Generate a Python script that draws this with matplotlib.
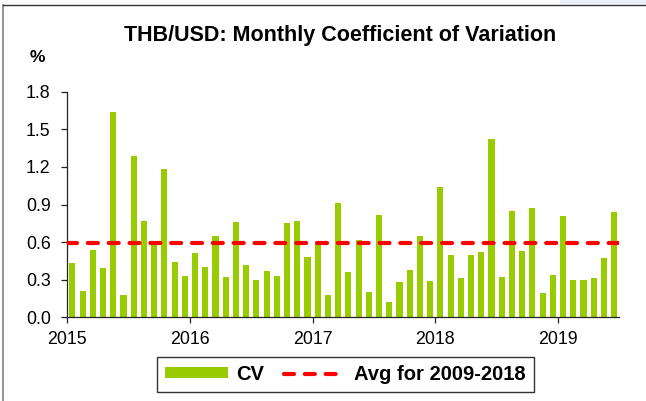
import matplotlib
matplotlib.use("Agg")
import matplotlib.pyplot as plt
from matplotlib.lines import Line2D
from matplotlib.patches import Rectangle

plt.rcParams['font.family'] = ['Liberation Sans', 'DejaVu Sans']

# Monthly CV (%), Jan 2015 - Jun 2019
cv = [0.43, 0.21, 0.54, 0.39, 1.64, 0.18, 1.29, 0.77, 0.61, 1.18, 0.44, 0.33,
      0.51, 0.40, 0.65, 0.32, 0.76, 0.42, 0.30, 0.37, 0.33, 0.75, 0.77, 0.48,
      0.60, 0.18, 0.91, 0.36, 0.62, 0.20, 0.82, 0.12, 0.28, 0.38, 0.65, 0.29,
      1.04, 0.50, 0.31, 0.50, 0.52, 1.42, 0.32, 0.85, 0.53, 0.87, 0.19, 0.34,
      0.81, 0.30, 0.30, 0.31, 0.47, 0.84]
avg_2009_2018 = 0.59
year_labels = ['2015', '2016', '2017', '2018', '2019']
title = 'THB/USD: Monthly Coefficient of Variation'

W, H = 646, 401
fig = plt.figure(figsize=(W / 100, H / 100), dpi=100)
ax = fig.add_axes([67.3 / W, 1 - 317.3 / H, 552 / W, 225.6 / H])

x = [i + 0.5 for i in range(len(cv))]
bars = ax.bar(x, cv, width=0.6, color='#99CC00', label='CV', zorder=2)
line = ax.axhline(avg_2009_2018, color='#FF0000', lw=3.0, dashes=(2.4, 2.6),
                  dash_capstyle='round', label='Avg for 2009-2018', zorder=3)

ax.set_xlim(0, len(cv))
ax.set_ylim(0, 1.8)
ax.set_xticks([0, 12, 24, 36, 48])
ax.set_xticklabels(year_labels)
yt = [0, 0.3, 0.6, 0.9, 1.2, 1.5, 1.8]
ax.set_yticks(yt)
ax.set_yticklabels(['%.1f' % v for v in yt])
for s in ['top', 'right']:
    ax.spines[s].set_visible(False)
for s in ['left', 'bottom']:
    ax.spines[s].set_linewidth(0.9)
    ax.spines[s].set_color('#222222')
ax.tick_params(axis='both', direction='out', length=4, width=0.9,
               color='#222222', labelsize=12.8)
ax.tick_params(axis='y', pad=8)
ax.tick_params(axis='x', pad=6)

fig.text(340 / W, 1 - 36 / H, title, ha='center', va='center',
         fontsize=15.5, fontweight='bold')
fig.text(37 / W, 1 - 58 / H, '%', ha='center', va='center',
         fontsize=12.5, fontweight='bold')

leg = fig.legend([bars, line], ['CV', 'Avg for 2009-2018'],
                 loc='center', bbox_to_anchor=(345.8 / W, 1 - 374.5 / H),
                 ncol=2, prop={'weight': 'bold', 'size': 14.5},
                 frameon=True, fancybox=False, edgecolor='black',
                 handlelength=3.1, handleheight=0.45, handletextpad=0.4,
                 columnspacing=1.0, borderpad=0.4, borderaxespad=0)
leg.get_frame().set_linewidth(1.0)

# outer frame of the screenshot
fig.add_artist(Line2D([3 / W, 3 / W], [0, 1 - 5 / H], color='#808080', lw=1.2,
                      transform=fig.transFigure))
fig.add_artist(Line2D([3 / W, 1], [1 - 5 / H, 1 - 5 / H], color='#333333', lw=1.0,
                      transform=fig.transFigure))
fig.add_artist(Rectangle((560 / W, 1 - 4 / H), 86 / W, 4 / H, color='#E8EEF8',
                         transform=fig.transFigure, lw=0))

fig.savefig('out.png', dpi=100)
